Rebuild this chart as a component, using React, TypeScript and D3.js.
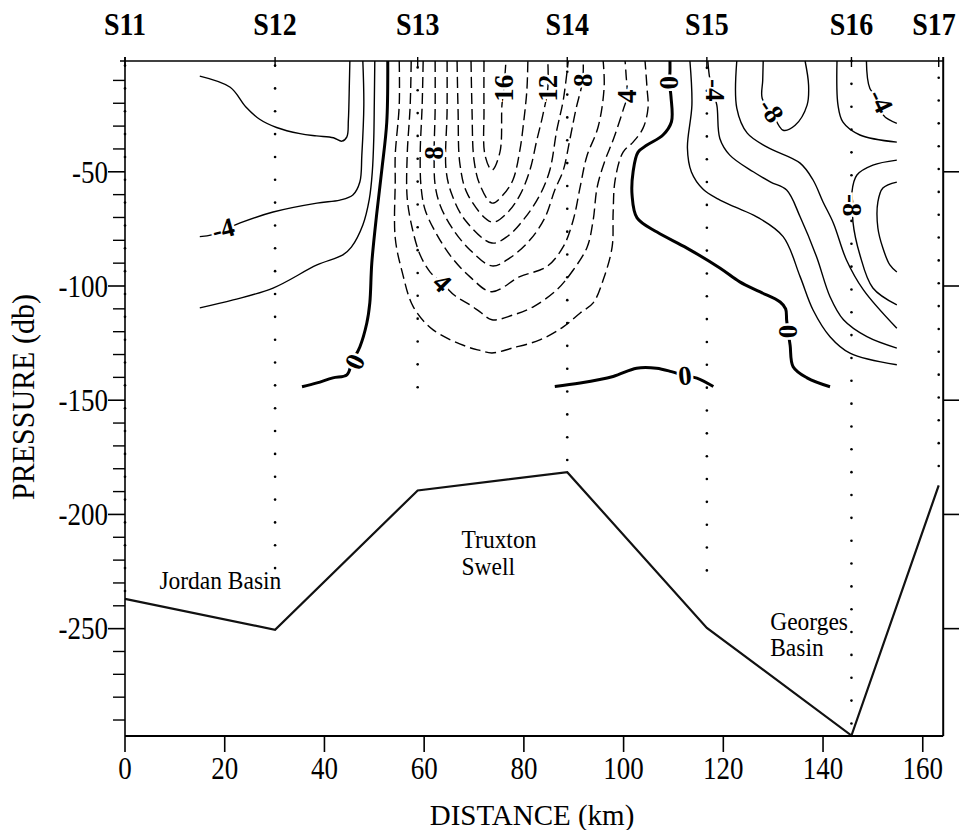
import React from 'react';
import * as d3 from 'd3';

type Pt = [number, number];

const FONT = '"Liberation Serif", "Times New Roman", Times, serif';

// stations along the section (km) and the sampled pressure range of each cast
const STATION_NAMES = ['S11', 'S12', 'S13', 'S14', 'S15', 'S16', 'S17'];
const STATION_KM = [0, 30.1, 58.7, 88.7, 116.7, 145.7, 163.2];
const STATION_FIRST_P = [-3.5, -3.5, -4.3, -6.2, -4.5, -1.5, -8.8];
const STATION_LAST_P = [-233.5, -223.5, -144.3, -176.2, -224.5, -291.5, -178.8];

// bottom profile
const BOTTOM_KM = [0, 30.1, 58.7, 88.7, 116.7, 145.7, 163.2];
const BOTTOM_P = [-237, -250.5, -189.5, -181.5, -249.7, -296.8, -187.3];

const X_TICKS = [0, 20, 40, 60, 80, 100, 120, 140, 160];
const Y_TICKS = [-50, -100, -150, -200, -250];
const Y_MINOR = [-10, -20, -30, -40, -60, -70, -80, -90, -110, -120, -130, -140, -160, -170, -180, -190,
  -210, -220, -230, -240, -260, -270, -280, -290];

// contour lines, [km, pressure]
const NEG_WEST_A: Pt[] = [[15.0, -8.1], [21.1, -13.0], [24.2, -21.5], [27.0, -27.0], [30.4, -30.6], [35.1, -33.3],
  [38.4, -34.3], [41.8, -35.1], [43.5, -36.6], [44.5, -34.7], [44.8, -27.4], [45.0, -11.3], [45.1, -1.5]];
const NEG4_WEST: Pt[] = [[15.0, -78.4], [17.6, -77.5], [23.1, -72.4], [29.7, -67.6], [38.5, -63.7], [43.1, -62.4],
  [45.7, -60.2], [47.1, -54.5], [47.5, -42.7], [47.9, -20.8], [47.7, -1.5]];
const NEG_WEST_C: Pt[] = [[15.0, -109.6], [21.7, -106.1], [29.7, -100.9], [38.5, -90.8], [43.7, -86.4], [45.4, -83.0],
  [47.7, -73.3], [49.0, -62.0], [49.6, -50.0], [49.9, -35.0], [50.0, -20.0], [50.1, -1.5]];
const ZERO_WEST: Pt[] = [[52.7, -1.5], [52.5, -28.3], [51.5, -49.3], [50.5, -68.1], [49.5, -89.9], [49.1, -107.4],
  [48.5, -116.2], [47.1, -126.7], [45.5, -133.5], [44.5, -138.9], [41.7, -140.2], [38.5, -142.4], [35.5, -144.1]];
const ZERO_MID: Pt[] = [[109.3, -1.5], [109.3, -6], [109.2, -11], [109.5, -17], [109.6, -28.1], [107.9, -33.9],
  [104.7, -38.3], [102.9, -41.4], [101.9, -50.1], [101.7, -60.2], [102.7, -70.2], [106.7, -76.4], [112.7, -83.4],
  [119.3, -92.1], [123.3, -98.2], [127.4, -102.6], [131.4, -107.0], [132.5, -110], [132.7, -115], [133.0, -120],
  [133.4, -126], [134.0, -135.3], [136.8, -140.2], [141.4, -144.1]];
const ZERO_SOUTH: Pt[] = [[86.2, -144.0], [91.3, -142.5], [97.9, -139.6], [102.6, -136.0], [106.6, -136.0],
  [109.6, -137.5], [112.3, -139.3], [114.7, -140.3], [118.0, -144.0]];
const NEG2_EAST: Pt[] = [[113.3, -1.5], [113.7, -20.8], [112.8, -39.6], [113.6, -50.1], [116.0, -57.8],
  [119.0, -62.0], [122.3, -65.4], [126.7, -69.7], [132.0, -78.4], [135.4, -95.9], [138.0, -110.5], [141.4, -122.2],
  [145.4, -129.4], [154.8, -134.5]];
const NEG4_EAST: Pt[] = [[116.9, -1.5], [117.2, -8], [117.8, -14.3], [118.7, -20.8], [119.3, -35.4], [121.3, -42.7],
  [126.0, -50.0], [129.5, -54.5], [132.7, -58.0], [135.4, -69.7], [138.7, -87.2], [141.4, -104.7], [144.1, -114.8],
  [148.8, -122.2], [154.8, -127.2]];
const NEG6_EAST: Pt[] = [[122.7, -1.5], [122.7, -22.1], [124.8, -33.1], [128.8, -39.2], [135.4, -46.2], [138.0, -53.6],
  [140.0, -63.2], [142.1, -72.6], [144.7, -88.6], [148.1, -101.7], [154.8, -118.5]];
const NEG8_LOOP: Pt[] = [[128.0, -1.5], [127.9, -10], [127.8, -17.9], [129.6, -23.2], [132.0, -31.8], [134.4, -29.6],
  [136.8, -20.8], [137.1, -12], [136.4, -1.5]];
const NEG6_FAR: Pt[] = [[142.8, -1.5], [143.0, -20.8], [144.0, -28.3], [147.4, -33.9], [154.8, -37.0]];
const NEG4_FAR: Pt[] = [[148.7, -1.5], [149.4, -13.5], [151.6, -19.1], [152.1, -25.2], [154.8, -28.8]];
const NEG8_FAR: Pt[] = [[154.8, -44.9], [150.0, -47.1], [146.8, -51.4], [145.8, -58.9], [146.0, -64.6], [146.0, -71.9],
  [147.4, -86.4], [150.0, -100.9], [154.8, -108.3]];
const NEG10_FAR: Pt[] = [[154.8, -54.5], [152.0, -57.1], [151.0, -63.2], [151.0, -74.6], [152.0, -83.4], [153.4, -90.8],
  [154.8, -93.9]];
const POS2: Pt[] = [[55.0, -1.5], [55.0, -20.8], [54.2, -42.7], [54.2, -53.6], [54.2, -79.0], [55.6, -93.9],
  [57.8, -109.0], [61.8, -119.2], [68.5, -126.5], [71.2, -128.2], [73.6, -129.3], [77.8, -127.1], [83.2, -123.6],
  [87.9, -117.9], [91.3, -111.8], [93.9, -107.4], [95.9, -97.4], [97.7, -82.9], [97.9, -68.1], [98.3, -53.6],
  [99.9, -41.4], [101.9, -37.0], [103.9, -30.9], [104.9, -22.1], [104.7, -13.4], [104.3, -1.5]];
const POS4: Pt[] = [[57.4, -1.5], [57.2, -20.8], [56.6, -42.7], [56.6, -61.5], [57.6, -74.6], [59.2, -86.4],
  [61.2, -93.9], [63.6, -98.7], [66.2, -104.3], [69.2, -108.3], [71.2, -111.3], [73.6, -114.8], [77.8, -112.7],
  [81.8, -109.2], [86.6, -101.7], [89.9, -93.0], [92.7, -82.9], [93.9, -71.1], [94.7, -56.7], [96.3, -44.9],
  [97.9, -36.1], [99.9, -23.0], [100.7, -16.9], [100.5, -7.7], [100.3, -1.5]];
const POS6: Pt[] = [[59.8, -1.5], [59.6, -20.8], [59.2, -42.7], [59.4, -57.1], [60.2, -66.7], [62.6, -77.7],
  [65.6, -87.7], [69.2, -96.0], [73.5, -102.5], [79.2, -95.9], [84.6, -91.5], [87.9, -82.8], [89.9, -71.1],
  [91.3, -56.5], [92.6, -43.4], [94.9, -30.3], [96.1, -12.8], [95.9, -1.5]];
const POS8: Pt[] = [[62.2, -1.5], [62.2, -23.0], [62.0, -41.8], [62.2, -55.8], [63.2, -64.6], [65.6, -74.6],
  [69.2, -84.2], [73.6, -91.2], [77.2, -87.7], [81.2, -79.9], [84.2, -70.2], [86.2, -58.0], [87.9, -49.3],
  [89.2, -36.1], [90.4, -23.0], [91.8, -9.9], [91.9, -1.5]];
const POS10: Pt[] = [[64.6, -1.5], [64.6, -23.0], [64.4, -49.3], [65.6, -60.2], [68.2, -71.1], [73.6, -81.2],
  [76.8, -78.1], [80.2, -70.2], [83.2, -60.2], [85.2, -49.3], [86.6, -31.8], [87.9, -18.6], [88.9, -1.5]];
const POS12: Pt[] = [[66.6, -1.5], [66.8, -23.0], [67.2, -47.1], [68.8, -60.2], [73.6, -72.0], [76.6, -68.1],
  [79.2, -60.2], [81.2, -49.3], [82.6, -36.1], [83.8, -25.2], [84.8, -13.4], [84.8, -1.5]];
const POS14: Pt[] = [[69.4, -1.5], [69.6, -23.0], [70.0, -44.9], [71.2, -55.8], [73.6, -63.7], [75.8, -60.2],
  [77.8, -53.6], [79.2, -40.5], [80.0, -27.4], [80.6, -14.3], [80.8, -1.5]];
const POS16: Pt[] = [[72.0, -1.5], [72.0, -23.0], [72.2, -42.7], [73.6, -49.3], [75.2, -41.4], [75.6, -20.8],
  [76.0, -13.4], [76.4, -1.5]];

// contour labels
const LABEL_TEXT = ['-4', '0', '8', '4', '16', '12', '8', '4', '0', '-4', '-8', '-4', '-8', '0', '0'];
const LABEL_KM = [19.7, 46.1, 62.0, 63.6, 76.0, 84.8, 91.9, 100.7, 109.2, 118.3, 129.6, 151.6, 145.9, 133.0, 112.3];
const LABEL_P = [-75.0, -133.2, -41.8, -98.7, -13.4, -13.4, -9.9, -16.9, -11.0, -14.3, -23.2, -19.1, -64.6, -119.9, -139.3];
const LABEL_ANGLE = [-15, -65, -90, 45, -90, -90, -90, -90, 90, 90, 57, 64, 90, 90, -5];

// place names under the section
const AREA_NAMES = ['Jordan Basin', 'Truxton', 'Swell', 'Georges', 'Basin'];
const AREA_KM = [6.9, 67.5, 67.5, 129.4, 129.4];
const AREA_P = [-232.5, -214.6, -226.4, -250.4, -261.8];

const CONTOURS: { pts: Pt[]; kind: 'neg' | 'zero' | 'pos' }[] = [
  { pts: NEG_WEST_A, kind: 'neg' }, { pts: NEG4_WEST, kind: 'neg' }, { pts: NEG_WEST_C, kind: 'neg' },
  { pts: ZERO_WEST, kind: 'zero' }, { pts: ZERO_MID, kind: 'zero' }, { pts: ZERO_SOUTH, kind: 'zero' },
  { pts: NEG2_EAST, kind: 'neg' }, { pts: NEG4_EAST, kind: 'neg' }, { pts: NEG6_EAST, kind: 'neg' },
  { pts: NEG8_LOOP, kind: 'neg' }, { pts: NEG6_FAR, kind: 'neg' }, { pts: NEG4_FAR, kind: 'neg' },
  { pts: NEG8_FAR, kind: 'neg' }, { pts: NEG10_FAR, kind: 'neg' },
  { pts: POS2, kind: 'pos' }, { pts: POS4, kind: 'pos' }, { pts: POS6, kind: 'pos' }, { pts: POS8, kind: 'pos' },
  { pts: POS10, kind: 'pos' }, { pts: POS12, kind: 'pos' }, { pts: POS14, kind: 'pos' }, { pts: POS16, kind: 'pos' },
];

export default function App() {
  const x = d3.scaleLinear().domain([0, 164.1]).range([125, 943.2]);
  const y = d3.scaleLinear().domain([-1.5, -297]).range([61, 736]);
  const [x0, x1] = x.range();
  const [yTop, yBot] = y.range();

  const contourPath = d3.line<Pt>()
    .x(d => x(d[0]))
    .y(d => y(d[1]))
    .curve(d3.curveCatmullRom.alpha(0.5));

  const bottomPath = d3.line<number>()
    .x((_, i) => x(BOTTOM_KM[i]))
    .y(d => y(d));

  // the original type is a tall, narrow Times
  const tall = (px: number, py: number, k = 1.18) => `translate(${px},${py}) scale(1,${k})`;

  return (
    <svg width={959} height={830} style={{ position: 'absolute', left: 0, top: 0 }} fontFamily={FONT}>
      <rect width={959} height={830} fill="#fff" />

      {/* station sample dots */}
      {STATION_KM.map((km, i) => (
        <g key={'st' + i}>
          {d3.range(STATION_FIRST_P[i], STATION_LAST_P[i] - 0.1, -10).map((p, j) => (
            <circle key={j} cx={x(km)} cy={y(p)} r={1.3} fill="#000" />
          ))}
        </g>
      ))}

      {/* contours */}
      {CONTOURS.map((c, i) => (
        <path key={'c' + i} d={contourPath(c.pts) || ''} fill="none" stroke="#000"
          strokeWidth={c.kind === 'zero' ? 3 : 1.4}
          strokeDasharray={c.kind === 'pos' ? '11 5' : undefined}
          strokeLinecap="butt" strokeLinejoin="round" />
      ))}

      {/* contour labels */}
      {LABEL_TEXT.map((t, i) => (
        <text key={'l' + i}
          transform={`translate(${x(LABEL_KM[i])},${y(LABEL_P[i])}) rotate(${LABEL_ANGLE[i]})`}
          textAnchor="middle" dominantBaseline="central" fontSize={27} fontWeight="bold"
          fill="#000" stroke="#fff" strokeWidth={5} paintOrder="stroke">{t}</text>
      ))}

      {/* bottom */}
      <path d={bottomPath(BOTTOM_P) || ''} fill="none" stroke="#111" strokeWidth={2.2} />

      {/* place names */}
      {AREA_NAMES.map((n, i) => (
        <text key={'a' + i} transform={tall(x(AREA_KM[i]), y(AREA_P[i]), 1.08)} fontSize={23.5} fill="#000">{n}</text>
      ))}

      {/* frame */}
      <line x1={x0 - 5} x2={x1} y1={yTop} y2={yTop} stroke="#000" strokeWidth={1.6} />
      <line x1={x0} x2={x0} y1={yTop - 4} y2={yBot} stroke="#000" strokeWidth={1.6} />
      <line x1={x0} x2={x1} y1={yBot} y2={yBot} stroke="#000" strokeWidth={2.2} />
      <line x1={x1} x2={x1} y1={yTop - 4} y2={yBot} stroke="#000" strokeWidth={2} />

      {/* top station ticks and names */}
      {STATION_KM.map((km, i) => (
        <g key={'sn' + i}>
          <line x1={x(km)} x2={x(km)} y1={yTop - 4} y2={yTop + 6} stroke="#000" strokeWidth={1.4} />
          <text transform={tall(Math.min(x(km), 934), 35, 1.1)} textAnchor="middle" fontSize={28} fontWeight="bold">
            {STATION_NAMES[i]}
          </text>
        </g>
      ))}

      {/* x axis */}
      {X_TICKS.map(t => (
        <g key={'xt' + t}>
          <line x1={x(t)} x2={x(t)} y1={yBot} y2={yBot + 16} stroke="#000" strokeWidth={1.6} />
          <text transform={tall(x(t), 779)} textAnchor="middle" fontSize={27}>{t}</text>
        </g>
      ))}

      {/* y axis */}
      {Y_MINOR.map(t => (
        <line key={'ym' + t} x1={x0 - 12} x2={x0} y1={y(t)} y2={y(t)} stroke="#000" strokeWidth={1.4} />
      ))}
      {Y_TICKS.map(t => (
        <g key={'yt' + t}>
          <line x1={x0 - 17} x2={x0} y1={y(t)} y2={y(t)} stroke="#000" strokeWidth={1.6} />
          <line x1={x1} x2={x1 + 16} y1={y(t)} y2={y(t)} stroke="#000" strokeWidth={1.6} />
          <text transform={tall(x0 - 17, y(t) + 10.8)} textAnchor="end" fontSize={27}>{t}</text>
        </g>
      ))}

      <text transform={tall(532, 825, 1.05)} textAnchor="middle" fontSize={29}>DISTANCE (km)</text>
      <text transform="translate(34,397) rotate(-90) scale(1,1.05)" textAnchor="middle" fontSize={30}>PRESSURE (db)</text>
    </svg>
  );
}
